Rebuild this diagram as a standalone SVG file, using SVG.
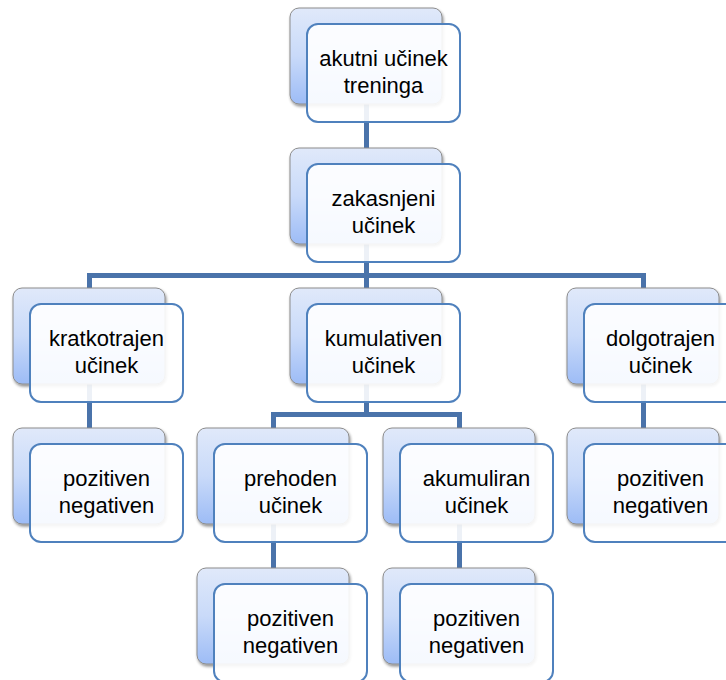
<svg xmlns="http://www.w3.org/2000/svg" width="726" height="680" viewBox="0 0 726 680">
<style>
.bk{fill:url(#g);stroke:#8c8c8c;stroke-width:1;filter:url(#sh)}
.fr{fill:#ffffff;fill-opacity:0.9;stroke:#4f81bd;stroke-width:2}
.t{font-family:"Liberation Sans",Arial,sans-serif;font-size:22px;fill:#000;text-anchor:middle}
.c{fill:none;stroke:#4a73aa;stroke-width:5;stroke-linejoin:miter}
</style>
<defs>
<linearGradient id="g" x1="0" y1="0" x2="0" y2="1">
<stop offset="0" stop-color="#e0e9fa"/>
<stop offset="0.5" stop-color="#c9daf9"/>
<stop offset="1" stop-color="#9dbcf6"/>
</linearGradient>
<filter id="sh" x="-10%" y="-10%" width="125%" height="130%">
<feGaussianBlur in="SourceAlpha" stdDeviation="1.5"/>
<feOffset dx="1" dy="2" result="o"/>
<feComponentTransfer><feFuncA type="linear" slope="0.45"/></feComponentTransfer>
<feMerge><feMergeNode/><feMergeNode in="SourceGraphic"/></feMerge>
</filter>
</defs>
<rect width="726" height="680" fill="#ffffff"/>
<g id="connectors">
<path class="c" d="M366.5 56V200"/>
<path class="c" d="M366.5 200V300M89.5 300V275.5H643.5V300"/>
<path class="c" d="M89.5 340V440"/>
<path class="c" d="M366.5 340V414.5M273.5 440V414.5H459.5V440"/>
<path class="c" d="M643.5 340V440"/>
<path class="c" d="M273.5 480V580"/>
<path class="c" d="M459.5 480V580"/>
</g>
<g id="n-akutni">
<rect class="bk" x="290" y="8" width="152" height="96" rx="9"/>
<rect class="fr" x="307" y="24" width="153" height="98" rx="11"/>
<text class="t" x="383.5" y="66">akutni učinek</text>
<text class="t" x="383.5" y="93">treninga</text>
</g>
<g id="n-zakasnjeni">
<rect class="bk" x="290" y="148" width="152" height="96" rx="9"/>
<rect class="fr" x="307" y="164" width="153" height="98" rx="11"/>
<text class="t" x="383.5" y="206">zakasnjeni</text>
<text class="t" x="383.5" y="233">učinek</text>
</g>
<g id="n-kratkotrajen">
<rect class="bk" x="13" y="288" width="152" height="96" rx="9"/>
<rect class="fr" x="30" y="304" width="153" height="98" rx="11"/>
<text class="t" x="106.5" y="346">kratkotrajen</text>
<text class="t" x="106.5" y="373">učinek</text>
</g>
<g id="n-kumulativen">
<rect class="bk" x="290" y="288" width="152" height="96" rx="9"/>
<rect class="fr" x="307" y="304" width="153" height="98" rx="11"/>
<text class="t" x="383.5" y="346">kumulativen</text>
<text class="t" x="383.5" y="373">učinek</text>
</g>
<g id="n-dolgotrajen">
<rect class="bk" x="567" y="288" width="152" height="96" rx="9"/>
<rect class="fr" x="584" y="304" width="153" height="98" rx="11"/>
<text class="t" x="660.5" y="346">dolgotrajen</text>
<text class="t" x="660.5" y="373">učinek</text>
</g>
<g id="n-kratko-pn">
<rect class="bk" x="13" y="428" width="152" height="96" rx="9"/>
<rect class="fr" x="30" y="444" width="153" height="98" rx="11"/>
<text class="t" x="106.5" y="486">pozitiven</text>
<text class="t" x="106.5" y="513">negativen</text>
</g>
<g id="n-prehoden">
<rect class="bk" x="197" y="428" width="152" height="96" rx="9"/>
<rect class="fr" x="214" y="444" width="153" height="98" rx="11"/>
<text class="t" x="290.5" y="486">prehoden</text>
<text class="t" x="290.5" y="513">učinek</text>
</g>
<g id="n-akumuliran">
<rect class="bk" x="383" y="428" width="152" height="96" rx="9"/>
<rect class="fr" x="400" y="444" width="153" height="98" rx="11"/>
<text class="t" x="476.5" y="486">akumuliran</text>
<text class="t" x="476.5" y="513">učinek</text>
</g>
<g id="n-dolgo-pn">
<rect class="bk" x="567" y="428" width="152" height="96" rx="9"/>
<rect class="fr" x="584" y="444" width="153" height="98" rx="11"/>
<text class="t" x="660.5" y="486">pozitiven</text>
<text class="t" x="660.5" y="513">negativen</text>
</g>
<g id="n-prehoden-pn">
<rect class="bk" x="197" y="568" width="152" height="96" rx="9"/>
<rect class="fr" x="214" y="584" width="153" height="98" rx="11"/>
<text class="t" x="290.5" y="626">pozitiven</text>
<text class="t" x="290.5" y="653">negativen</text>
</g>
<g id="n-akumuliran-pn">
<rect class="bk" x="383" y="568" width="152" height="96" rx="9"/>
<rect class="fr" x="400" y="584" width="153" height="98" rx="11"/>
<text class="t" x="476.5" y="626">pozitiven</text>
<text class="t" x="476.5" y="653">negativen</text>
</g>
</svg>
